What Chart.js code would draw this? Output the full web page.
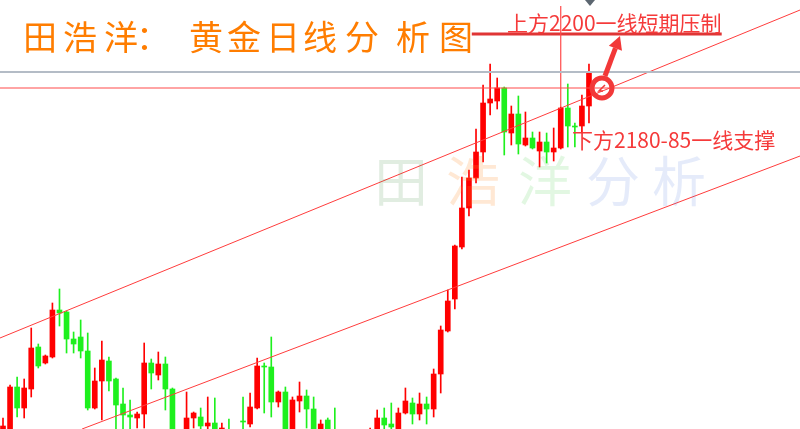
<!DOCTYPE html>
<html>
<head>
<meta charset="utf-8">
<script src="https://cdn.jsdelivr.net/npm/chart.js@4.4.1/dist/chart.umd.min.js"></script>
<style>
  html, body { margin: 0; padding: 0; background: #fff; }
  #wrap { width: 800px; height: 429px; }
</style>
</head>
<body>
<div id="wrap"><canvas id="myChart"></canvas></div>
<script>
// daily gold candles (red = up, green = down)
const open = [2023, 2025, 2050.5, 2040, 2049.5, 2070.5, 2062.5, 2065.5, 2089, 2088, 2074.5, 2075.5,
  2068.5, 2040, 2053.5, 2063.5, 2054.5, 2042, 2036.5, 2035, 2037, 2062.5, 2056.5, 2062,
  2049.5, 2024, 2024, 2035, 2035.5, 2031, 2032.5, 2024, 2028, 2024, 2033.5, 2032,
  2040, 2061, 2060.5, 2043, 2048, 2027, 2043.5, 2046, 2039.5, 2026, 2034, 2027,
  2024, 2021, 2021, 2019, 2023, 2028, 2035, 2032, 2029, 2037.5, 2042.5, 2037,
  2042, 2039.5, 2057, 2078.5, 2094.5, 2120.5, 2140, 2155, 2168, 2192.5, 2193.5, 2200,
  2177.5, 2187, 2171.5, 2175, 2168.5, 2173, 2168, 2170, 2190, 2181, 2181, 2191];
const high = [2035, 2051.5, 2055.5, 2054.5, 2080, 2072, 2066.5, 2092.5, 2099.5, 2088.5, 2078, 2084,
  2077.5, 2060, 2073.5, 2065.5, 2055, 2050, 2044, 2038, 2072.5, 2064.5, 2068, 2065.5,
  2050, 2028, 2048, 2038, 2040, 2045.5, 2045, 2032.5, 2034.5, 2026.5, 2045.5, 2047.5,
  2065, 2062.5, 2075.5, 2048.5, 2050.5, 2045.5, 2053, 2049, 2045.5, 2034, 2035, 2040,
  2026, 2024, 2025, 2025.5, 2030, 2039, 2040, 2042.5, 2040, 2050, 2045, 2047.5,
  2045.5, 2059.5, 2081, 2099, 2121.5, 2155.5, 2159, 2179.5, 2201.5, 2212, 2205, 2200.5,
  2191, 2196, 2188, 2178, 2178, 2177.5, 2180, 2190.5, 2202, 2182.5, 2196.5, 2212];
const low = [2020, 2022, 2035.5, 2035, 2045.5, 2060, 2062, 2065, 2081, 2067.5, 2067.5, 2065,
  2039, 2039.5, 2034, 2048.5, 2028, 2026, 2028, 2030, 2030, 2049.5, 2054, 2039,
  2021, 2015, 2021, 2030, 2028.5, 2028, 2025, 2021.5, 2021, 2019, 2028, 2030.5,
  2039.5, 2037.5, 2035.5, 2040.5, 2024, 2025, 2038, 2030, 2026, 2024, 2025, 2022,
  2018, 2016.5, 2016, 2017, 2021, 2027, 2028, 2028, 2027, 2037, 2032, 2034,
  2032, 2035.5, 2047.5, 2078, 2089.5, 2119.5, 2136, 2152.5, 2163, 2186.5, 2189.5, 2166.5,
  2171.5, 2167, 2171, 2169.5, 2160.5, 2162.5, 2163.5, 2169.5, 2170.5, 2170.5, 2177.5, 2182.5];
const close = [2031, 2050.5, 2040, 2050, 2070, 2061, 2066, 2089, 2087.5, 2074.5, 2072, 2068.5,
  2040, 2053.5, 2064, 2053.5, 2041.5, 2036.5, 2035.5, 2037, 2062.5, 2057.5, 2062, 2049.5,
  2024, 2018, 2035, 2037.5, 2031, 2032.5, 2028, 2030, 2024, 2021.5, 2033, 2040.5,
  2061, 2060.5, 2043, 2048, 2027, 2044, 2046, 2039.5, 2028, 2032, 2027, 2024,
  2020, 2023, 2018, 2024, 2028, 2035, 2031.5, 2030.5, 2037.5, 2043.5, 2037, 2042,
  2039.5, 2057, 2079, 2093.5, 2121, 2140, 2155, 2168, 2192.5, 2194.5, 2200, 2178,
  2187, 2172, 2175, 2170, 2173, 2168, 2170, 2190, 2181, 2180.5, 2191, 2208];

// drawn levels and channel
const resistance = 2200;
const lastPrice = 2208;
const upperChannel = [[-0.43, 2075], [112.9, 2239]];
const lowerChannel = [[11.2, 2029.5], [112.9, 2166]];
const markBar = 79;
const markTop = 2241;
const noteLine = [[66.4, 2227], [101.8, 2227]];

const titleText = '田浩洋：黄金日线分析图';
const upperNote = '上方2200一线短期压制';
const lowerNote = '下方2180-85一线支撑';
const watermark = '田浩洋分析';

const RED = '#ff0000';
const GREEN = '#1ef01e';
const barColors = close.map((c, i) => (c >= open[i] ? RED : GREEN));

const lineSet = (pts, color, width) => ({
  type: 'line',
  data: pts.map(p => ({ x: p[0], y: p[1] })),
  borderColor: color,
  borderWidth: width,
  pointRadius: 0,
  fill: false,
  tension: 0
});

const overlay = {
  id: 'overlay',
  afterDatasetsDraw(chart) {
    const { ctx, scales: { x, y } } = chart;
    ctx.save();

    // faint watermark
    const wmX = [401, 473, 545, 613, 679];
    const wmC = ['rgba(70,140,70,0.16)', 'rgba(255,140,40,0.2)', 'rgba(60,200,60,0.15)',
      'rgba(80,120,220,0.15)', 'rgba(80,120,220,0.15)'];
    ctx.font = '54px "Noto Sans CJK SC"';
    ctx.textAlign = 'center';
    ctx.textBaseline = 'middle';
    [...watermark].forEach((ch, i) => {
      ctx.fillStyle = wmC[i];
      ctx.fillText(ch, wmX[i], 181);
    });

    // title
    const tX = [40, 80, 121, 153, 206, 244, 283, 320, 362, 413, 456];
    ctx.font = '34px "Noto Sans CJK SC"';
    ctx.fillStyle = '#ff7d00';
    [...titleText].forEach((ch, i) => ctx.fillText(ch, tX[i], 37));

    // notes
    ctx.textAlign = 'left';
    ctx.textBaseline = 'alphabetic';
    ctx.fillStyle = '#f53a3a';
    ctx.font = '21px "Noto Sans CJK SC"';
    ctx.fillText(upperNote, 507, 31);
    ctx.fillText(lowerNote, 572, 148);

    // circle + arrow at the last bar
    const cx = x.getPixelForValue(open.length - 1) + 13;
    const cy = y.getPixelForValue(resistance);
    ctx.strokeStyle = '#f23838';
    ctx.fillStyle = '#f23838';
    ctx.lineWidth = 5;
    ctx.beginPath();
    ctx.arc(cx, cy, 10, 0, Math.PI * 2);
    ctx.stroke();
    ctx.lineWidth = 1.5;
    ctx.beginPath();
    ctx.moveTo(cx + 3, cy - 3);
    ctx.lineTo(cx - 3, cy + 3);
    ctx.lineTo(cx + 1, cy + 3);
    ctx.stroke();

    const sx = cx + 3, sy = cy - 12, tx = cx + 18, ty = cy - 52;
    const len = Math.hypot(tx - sx, ty - sy);
    const ux = (tx - sx) / len, uy = (ty - sy) / len;
    const bx = tx - ux * 13, by = ty - uy * 13;
    ctx.lineWidth = 5;
    ctx.beginPath();
    ctx.moveTo(sx, sy);
    ctx.lineTo(bx, by);
    ctx.stroke();
    ctx.beginPath();
    ctx.moveTo(tx, ty);
    ctx.lineTo(bx - uy * 7, by + ux * 7);
    ctx.lineTo(bx + uy * 7, by - ux * 7);
    ctx.closePath();
    ctx.fill();

    // small marker at the top
    ctx.fillStyle = '#5c6670';
    ctx.beginPath();
    ctx.moveTo(585, 0);
    ctx.lineTo(595, 0);
    ctx.lineTo(590, 6);
    ctx.closePath();
    ctx.fill();

    ctx.restore();
  }
};

new Chart(document.getElementById('myChart'), {
  type: 'bar',
  data: {
    datasets: [
      lineSet([[-0.43, lastPrice], [112.9, lastPrice]], '#b4bcc6', 2),
      lineSet([[-0.43, resistance], [112.9, resistance]], '#ff4a4a', 1.2),
      lineSet(upperChannel, '#ff3c3c', 1),
      lineSet(lowerChannel, '#ff3c3c', 1),
      lineSet([[markBar, markTop], [markBar, high[markBar]]], '#ff4a4a', 1.2),
      lineSet(noteLine, '#e03535', 3),
      {
        data: high.map((h, i) => ({ x: i, y: [low[i], h] })),
        backgroundColor: barColors,
        barThickness: 1,
        grouped: false
      },
      {
        data: open.map((o, i) => ({ x: i, y: [o, close[i]] })),
        backgroundColor: barColors,
        barThickness: 5,
        minBarLength: 1,
        grouped: false
      }
    ]
  },
  options: {
    responsive: true,
    maintainAspectRatio: false,
    animation: false,
    layout: { padding: 0 },
    events: [],
    plugins: { legend: { display: false }, tooltip: { enabled: false } },
    scales: {
      x: { type: 'linear', min: -0.425, max: 112.89, offset: false, display: false },
      y: { min: 2029.5, max: 2244, display: false }
    }
  },
  plugins: [overlay]
});
</script>
</body>
</html>
